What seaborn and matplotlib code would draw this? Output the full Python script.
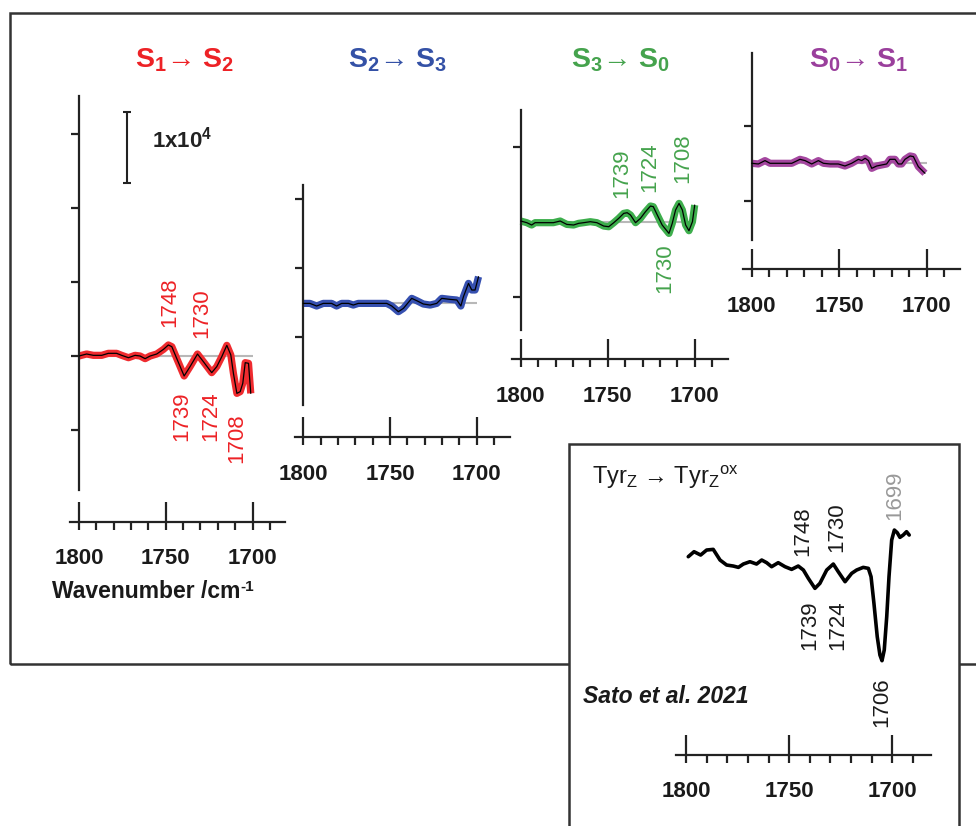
import numpy as np
import pandas as pd
import seaborn as sns
import matplotlib
matplotlib.use("Agg")
import matplotlib.pyplot as plt
from matplotlib.patches import Rectangle

sns.set_style("white")
plt.rcParams["font.family"] = ["Liberation Sans", "DejaVu Sans"]
plt.rcParams["mathtext.fontset"] = "custom"
plt.rcParams["mathtext.rm"] = "Liberation Sans"
plt.rcParams["mathtext.bf"] = "Liberation Sans:bold"
plt.rcParams["mathtext.it"] = "Liberation Sans:italic"
plt.rcParams["mathtext.sf"] = "Liberation Sans"

# ---------------- data ----------------
# S1 -> S2 (units of 1e4)
wn_s1s2 = [1800, 1795.6, 1791.7, 1786.9, 1783.1, 1778.3, 1775.4, 1771.5, 1767.7, 1764.8,
           1761.9, 1759.0, 1755.2, 1751.3, 1748.5, 1746.5, 1743.7, 1739.4, 1736.0, 1731.7,
           1728.3, 1723.5, 1720.6, 1717.7, 1714.8, 1712.5, 1711.0, 1709.0, 1707.1, 1705.6,
           1704.2, 1702.3, 1701.0]
val_s1s2 = [0.0, 0.027, 0.009, 0.009, 0.036, 0.036, 0.009, -0.023, 0.009, 0.0,
            -0.036, 0.0, 0.027, 0.090, 0.149, 0.126, -0.032, -0.270, -0.144, 0.027,
            -0.077, -0.225, -0.144, -0.009, 0.144, 0.014, -0.234, -0.505, -0.482, -0.369,
            -0.090, -0.099, -0.505]

# S2 -> S3
wn_s2s3 = [1800, 1796.2, 1792.3, 1788.5, 1783.7, 1780.8, 1777.9, 1774.0, 1771.2, 1768.3,
           1751.9, 1749.0, 1745.2, 1742.3, 1737.5, 1734.6, 1730.8, 1726.9, 1723.1, 1720.2,
           1715.4, 1711.5, 1709.2, 1707.7, 1704.8, 1702.9, 1701.0, 1699.0]
val_s2s3 = [-0.010, -0.010, -0.048, -0.010, -0.010, -0.048, -0.010, -0.010, -0.034, -0.010,
            -0.010, -0.048, -0.130, -0.082, 0.063, 0.029, -0.019, -0.034, -0.010, 0.063,
            0.048, 0.039, -0.048, 0.087, 0.280, 0.184, 0.184, 0.377]

# S3 -> S0
wn_s3s0 = [1800, 1796.5, 1793.7, 1791.7, 1786.9, 1781.2, 1777.3, 1773.5, 1769.6, 1766.7,
           1763.8, 1760.0, 1756.2, 1752.3, 1749.4, 1746.5, 1743.7, 1740.8, 1738.8, 1736.9,
           1734.0, 1731.2, 1728.3, 1725.4, 1723.8, 1721.5, 1718.7, 1714.8, 1712.9, 1711.0,
           1709.0, 1707.1, 1705.2, 1703.3, 1701.3, 1700.0]
val_s3s0 = [0.009, -0.013, -0.044, -0.013, -0.013, -0.013, 0.009, -0.036, -0.044, -0.022,
            -0.013, 0.0, -0.013, -0.058, -0.067, -0.013, 0.044, 0.111, 0.120, 0.089,
            -0.013, 0.044, 0.133, 0.209, 0.200, 0.089, -0.044, -0.156, -0.022, 0.156,
            0.244, 0.156, -0.044, -0.120, 0.0, 0.222]

# S0 -> S1
wn_s0s1 = [1800, 1796.2, 1792.4, 1789.5, 1783.8, 1777.1, 1772.4, 1769.5, 1765.7, 1761.9,
           1759.0, 1755.2, 1750.5, 1746.7, 1742.9, 1739.0, 1737.1, 1735.2, 1733.3, 1731.4,
           1728.6, 1725.7, 1722.9, 1721.0, 1718.1, 1716.2, 1714.3, 1712.4, 1709.5, 1707.6,
           1704.8, 1702.9, 1701.0]
val_s0s1 = [0.0, -0.009, 0.036, 0.0, 0.0, 0.0, 0.053, 0.036, -0.009, 0.036,
            0.0, -0.009, -0.009, -0.036, 0.0, 0.053, 0.036, 0.067, 0.036, -0.067,
            -0.036, -0.022, -0.009, 0.053, 0.053, -0.009, -0.009, 0.053, 0.098, 0.089,
            -0.044, -0.089, -0.133]

# TyrZ -> TyrZox (Sato et al. 2021), arbitrary units
wn_tyr = [1798.9, 1796.1, 1792.9, 1790.0, 1786.8, 1783.5, 1780.3, 1777.1, 1774.6, 1772.2,
          1769.0, 1765.8, 1763.3, 1760.9, 1758.5, 1755.3, 1752.0, 1748.8, 1745.6, 1743.1,
          1740.7, 1737.5, 1735.1, 1731.8, 1728.6, 1726.2, 1722.9, 1719.7, 1717.3, 1714.1,
          1711.6, 1710.3, 1708.9, 1707.3, 1706.0, 1705.0, 1703.9, 1702.7, 1701.6, 1700.3,
          1699.0, 1697.6, 1696.3, 1694.7, 1693.1, 1691.8]
val_tyr = [0.30, 0.45, 0.35, 0.50, 0.52, 0.20, 0.05, 0.02, -0.02, 0.08,
           0.15, 0.08, 0.20, 0.12, 0.0, 0.12, 0.0, -0.08, 0.02, -0.10,
           -0.35, -0.65, -0.50, -0.10, 0.08, -0.15, -0.45, -0.20, -0.10, -0.02,
           -0.05, -0.30, -1.10, -2.10, -2.65, -2.82, -2.50, -1.50, -0.30, 0.80,
           1.10, 1.02, 0.88, 0.95, 1.05, 0.95]

major_ticks = [1800, 1750, 1700]
major_labels = ["1800", "1750", "1700"]
minor_ticks = [1800, 1790, 1780, 1770, 1760, 1750, 1740, 1730, 1720, 1710, 1700, 1690]

# peak labels: (text, wavenumber position, y position)
peaks_s1s2 = [("1748", 1747.6, 0.73), ("1730", 1729.1, 0.58),
              ("1739", 1740.6, -0.81), ("1724", 1724.0, -0.81), ("1708", 1708.9, -1.11)]
peaks_s3s0 = [("1739", 1741.8, 0.64), ("1724", 1725.7, 0.73), ("1708", 1706.7, 0.85),
              ("1730", 1717.1, -0.62)]
peaks_tyr = [("1748", 1743.3, 1.07), ("1730", 1726.8, 1.19), ("1739", 1739.9, -1.75),
             ("1724", 1726.3, -1.75), ("1706", 1705.0, -4.06)]
peaks_tyr_gray = [("1699", 1698.7, 2.15)]

# ---------------- figure ----------------
W, H = 976, 826
fig = plt.figure(figsize=(W / 100, H / 100), dpi=100)
XLIM = (1805, 1681)
AXC = "#222222"


def px(x, y):
    return x / W, 1 - y / H


def add_panel(x1800, s, y0, k, ylim):
    left = x1800 + (1800 - XLIM[0]) * s
    right = x1800 + (1800 - XLIM[1]) * s
    top = y0 - ylim[1] * k
    bottom = y0 - ylim[0] * k
    ax = fig.add_axes([left / W, 1 - bottom / H, (right - left) / W, (bottom - top) / H])
    ax.patch.set_alpha(0)
    ax.set_zorder(2)
    return ax


def style(ax, ylim, xaxis_y, spine_bounds=None, yticks=()):
    ax.set_xlim(*XLIM)
    ax.set_ylim(*ylim)
    ax.grid(False)
    for side in ("top", "right"):
        ax.spines[side].set_visible(False)
    ax.spines["bottom"].set_position(("data", xaxis_y))
    ax.spines["bottom"].set_linewidth(1.6)
    ax.spines["bottom"].set_color(AXC)
    if spine_bounds is None:
        ax.spines["left"].set_visible(False)
        ax.set_yticks([])
    else:
        ax.spines["left"].set_position(("data", 1800))
        ax.spines["left"].set_bounds(*spine_bounds)
        ax.spines["left"].set_linewidth(1.6)
        ax.spines["left"].set_color(AXC)
        ax.set_yticks(list(yticks))
        ax.set_yticklabels([])
        ax.tick_params(axis="y", which="major", left=True, direction="out", length=6,
                       width=1.6, color=AXC)
    ax.set_xticks(major_ticks)
    ax.set_xticklabels(major_labels, fontsize=16, fontweight="bold", color="#1a1a1a")
    ax.set_xticks(minor_ticks, minor=True)
    ax.xaxis.remove_overlapping_locs = False
    ax.tick_params(axis="x", which="major", bottom=True, direction="in", length=14.5,
                   width=1.6, pad=19, color=AXC)
    ax.tick_params(axis="x", which="minor", bottom=True, direction="out", length=6,
                   width=1.6, color=AXC)
    ax.set_xlabel("")
    ax.set_ylabel("")


def spectrum(ax, wn, val, band_color, line_color="black", band=True, lw=0.9):
    df = pd.DataFrame({"wn": wn, "val": val})
    if band:
        ax.hlines(0, 1800, 1700, color="#b8b8b8", lw=1.5, zorder=1)
        sns.lineplot(data=df, x="wn", y="val", ax=ax, color=band_color,
                     estimator=None, sort=False)
        band_line = ax.lines[-1]
        band_line.set_linewidth(5.2)
        band_line.set_zorder(2)
        band_line.set_solid_joinstyle("round")
        band_line.set_solid_capstyle("butt")
    sns.lineplot(data=df, x="wn", y="val", ax=ax, color=line_color,
                 estimator=None, sort=False)
    main_line = ax.lines[-1]
    main_line.set_linewidth(lw)
    main_line.set_zorder(3)
    main_line.set_solid_joinstyle("round")


def peak_labels(ax, peaks, color, size=16):
    for txt, x, y in peaks:
        ax.text(x, y, txt, rotation=90, ha="center", va="center", color=color,
                fontsize=size)


RED, BLUE, GREEN, PURPLE = "#ED2226", "#3451A6", "#45A34D", "#9A3F9C"
RED_B, BLUE_B, GREEN_B, PURPLE_B = "#EF2B2F", "#3650B0", "#3DAE4C", "#A4469F"

# outer frame and inset frame
fig.add_artist(Rectangle(px(10, 664), (1000 - 10) / W, (664 - 13) / H, fill=False,
                         lw=1.8, edgecolor="#333333", transform=fig.transFigure, zorder=0.1))
fig.add_artist(Rectangle(px(569, 850), (959 - 569) / W, (850 - 444) / H, facecolor="white",
                         lw=1.8, edgecolor="#333333", transform=fig.transFigure, zorder=0.2))

# Panel 1: S1 -> S2
ylim1 = (-2.6, 3.7)
ax1 = add_panel(79, 1.735, 356, 74, ylim1)
spectrum(ax1, wn_s1s2, val_s1s2, RED_B)
style(ax1, ylim1, -2.24, (-1.81, 3.52), [-1, 0, 1, 2, 3])
peak_labels(ax1, peaks_s1s2, RED)
ax1.errorbar([1772.3], [2.82], yerr=[0.48], color="#222222", lw=1.5, capsize=3,
             capthick=1.5, fmt="none")
ax1.text(1758, 2.93, r"$\mathbf{1x10}^\mathbf{4}$", ha="left", va="center", fontsize=16,
         color="#222222")

# Panel 2: S2 -> S3
ylim2 = (-2.3, 1.9)
ax2 = add_panel(303.3, 1.735, 302.7, 69, ylim2)
spectrum(ax2, wn_s2s3, val_s2s3, BLUE_B)
style(ax2, ylim2, -1.95, (-1.48, 1.71), [-0.5, 0.5, 1.5])

# Panel 3: S3 -> S0
ylim3 = (-2.2, 1.7)
ax3 = add_panel(520.7, 1.74, 221.7, 75, ylim3)
spectrum(ax3, wn_s3s0, val_s3s0, GREEN_B)
style(ax3, ylim3, -1.835, (-1.44, 1.49), [-1, 1])
peak_labels(ax3, peaks_s3s0, GREEN)

# Panel 4: S0 -> S1
ylim4 = (-1.8, 1.6)
ax4 = add_panel(751.7, 1.75, 163.3, 75, ylim4)
spectrum(ax4, wn_s0s1, val_s0s1, PURPLE_B)
style(ax4, ylim4, -1.413, (-1.02, 1.47), [-0.5, 0.5])

# Panel 5: TyrZ
ylim5 = (-6.5, 3.2)
ax5 = add_panel(686, 2.063, 566.7, 33.33, ylim5)
spectrum(ax5, wn_tyr, val_tyr, None, band=False, lw=2.6)
style(ax5, ylim5, -5.65)
peak_labels(ax5, peaks_tyr, "#1a1a1a")
peak_labels(ax5, peaks_tyr_gray, "#999999")

# Titles
titles = [(r"$\mathbf{S_1}$→ $\mathbf{S_2}$", 184.5, RED),
          (r"$\mathbf{S_2}$→ $\mathbf{S_3}$", 397.5, BLUE),
          (r"$\mathbf{S_3}$→ $\mathbf{S_0}$", 620.5, GREEN),
          (r"$\mathbf{S_0}$→ $\mathbf{S_1}$", 858.5, PURPLE)]
for t, xc, c in titles:
    fig.text(*px(xc, 67), t, ha="center", va="baseline", fontsize=20.5, color=c, zorder=3)

wl = fig.text(*px(52, 598), "Wavenumber /cm", ha="left", va="baseline",
              fontsize=16.5, fontweight="bold", color="#1a1a1a")
ax1.annotate("-1", xy=(1.0, 1.0), xycoords=wl, ha="left", va="top", fontsize=11,
             fontweight="bold", color="#1a1a1a", annotation_clip=False)
fig.text(*px(592, 484), r"Tyr$_\mathrm{Z}$ → Tyr$_\mathrm{Z}$$^\mathrm{ox}$",
         ha="left", va="baseline", fontsize=17, color="#1a1a1a", zorder=3)
fig.text(*px(583, 703), "Sato et al. 2021", ha="left", va="baseline", fontsize=16.5,
         fontweight="bold", fontstyle="italic", color="#1a1a1a", zorder=3)

fig.savefig("out.png", dpi=100)
